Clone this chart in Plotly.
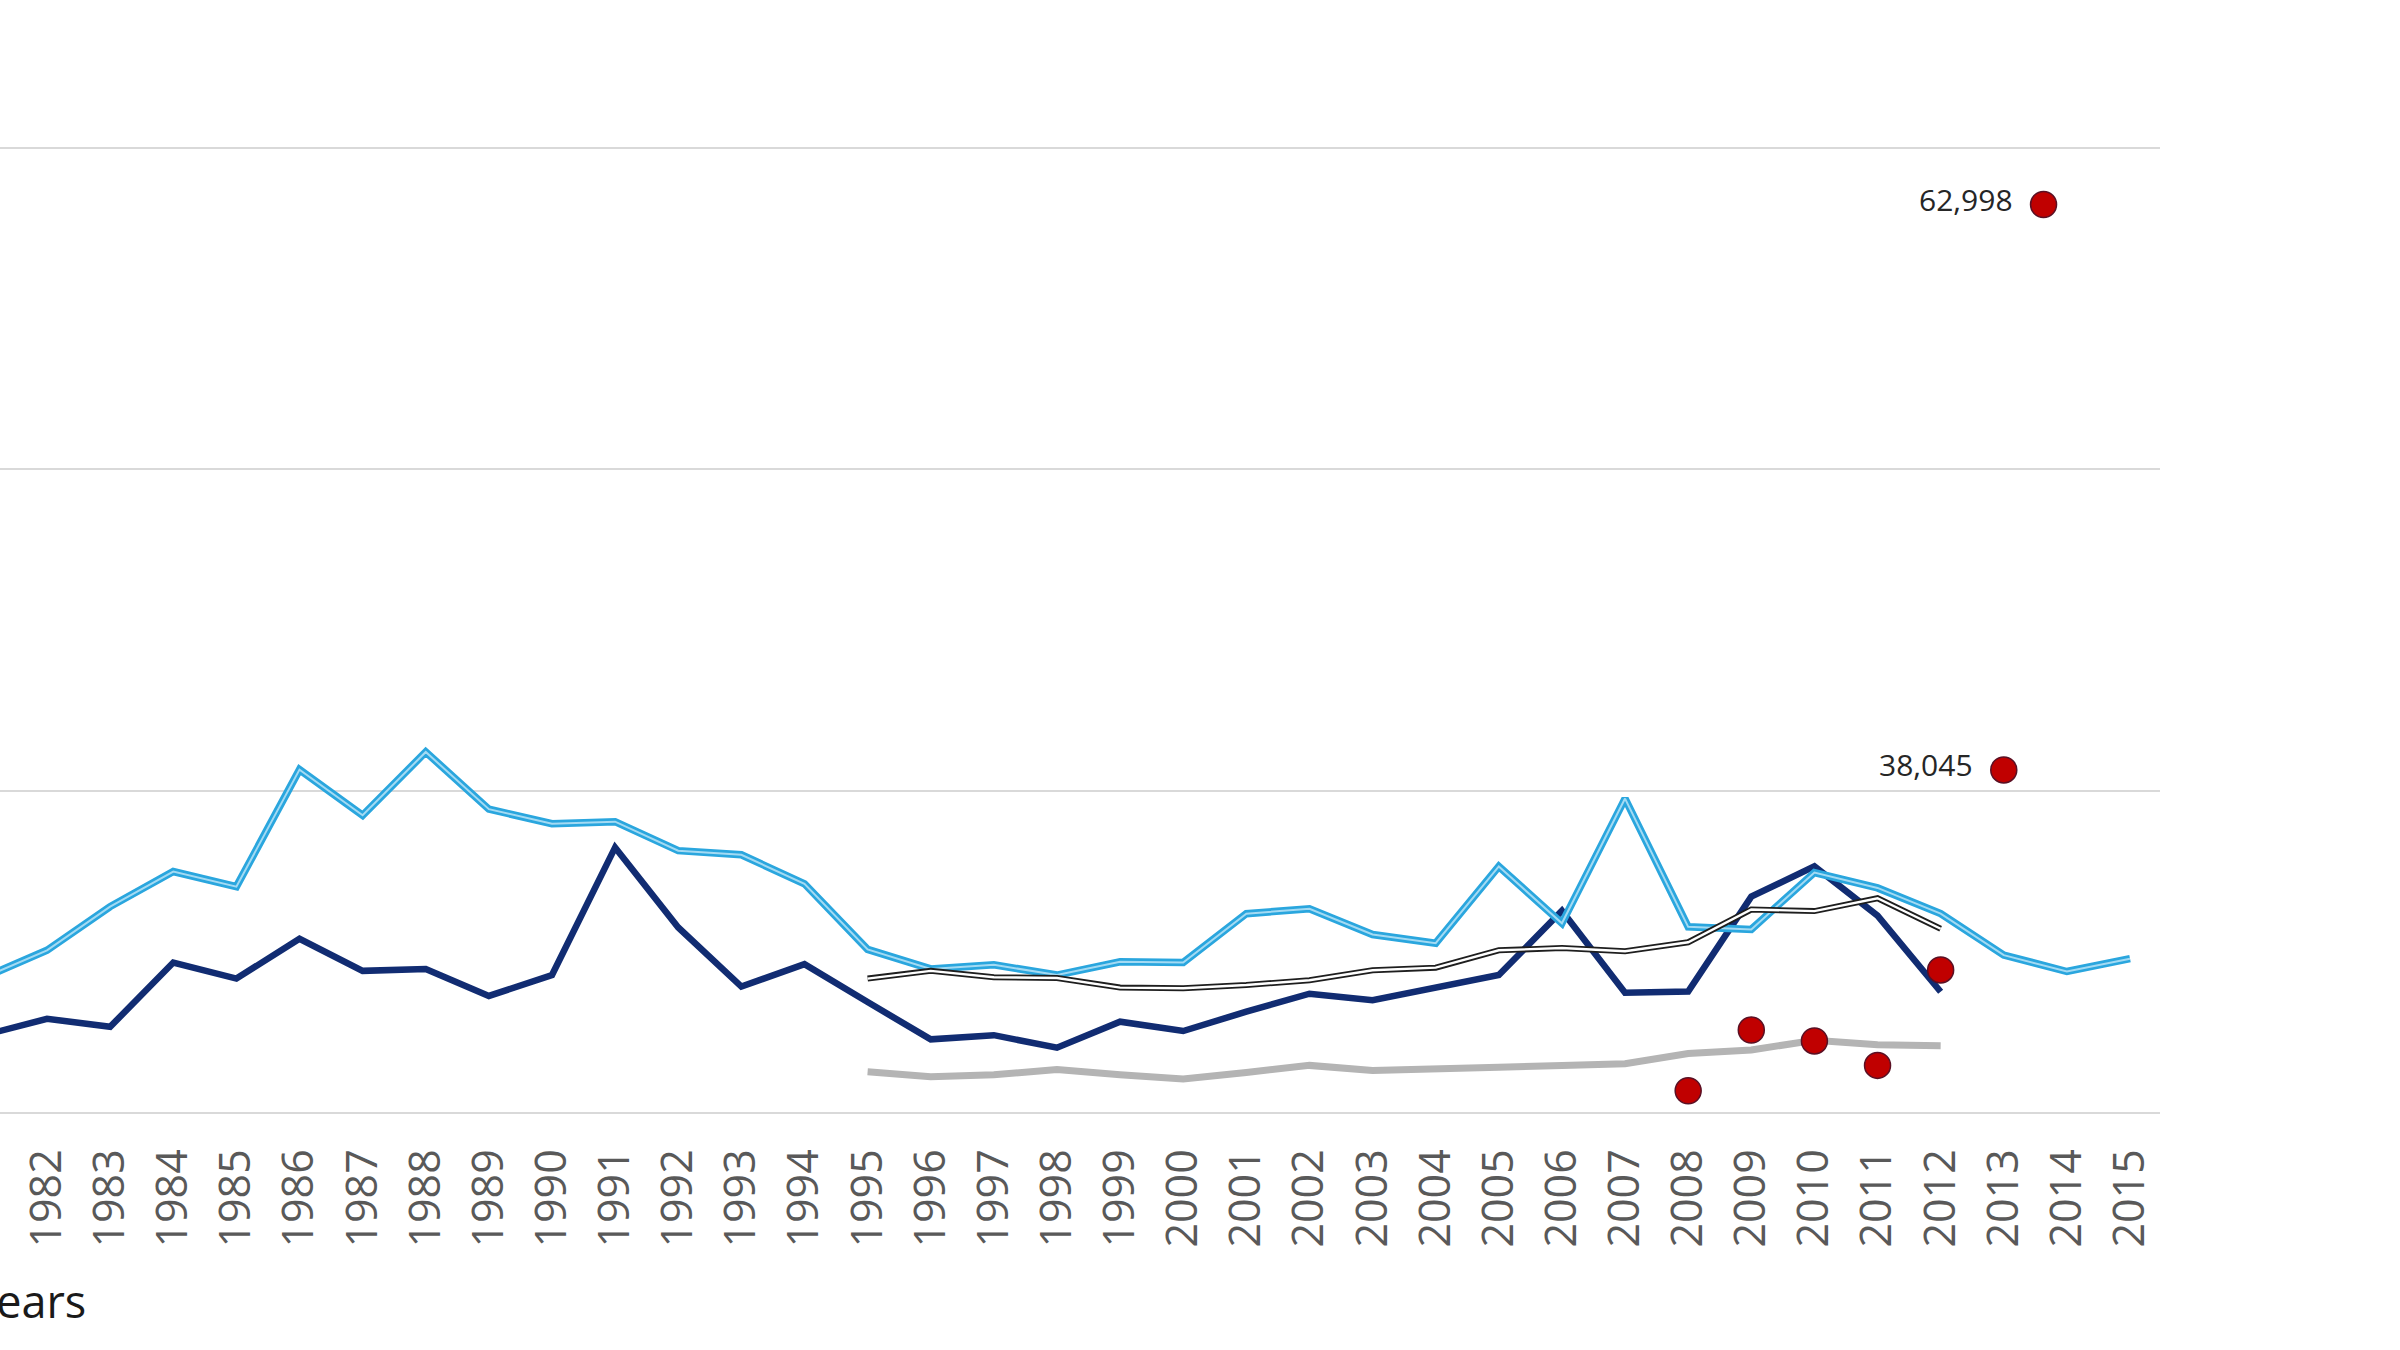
import plotly.graph_objects as go

# ---- data (y in chart units, gridlines every 10,000) ----
years_all = list(range(1981, 2016))
light_blue = [4180, 5030, 6390, 7480, 7010, 10650, 9230, 11200, 9420, 8970,
              9030, 8130, 8000, 7100, 5060, 4450, 4580, 4260, 4670, 4650,
              6170, 6320, 5520, 5250, 7640, 5870, 9750, 5760, 5680, 7450,
              6970, 6170, 4880, 4370, 4770]

years_dark = list(range(1981, 2013))
dark_blue = [2390, 2900, 2650, 4650, 4150, 5390, 4390, 4450, 3610, 4260,
             8230, 5740, 3900, 4600, 3420, 2260, 2390, 2000, 2810, 2520,
             3120, 3680, 3480, 3870, 4260, 6260, 3710, 3750, 6700, 7640,
             6110, 3740]

years_short = list(range(1995, 2013))
black_white = [4150, 4390, 4190, 4170, 3870, 3850, 3950, 4100, 4410, 4490,
               5030, 5100, 5000, 5280, 6300, 6250, 6650, 5700]
gray = [1250, 1100, 1160, 1320, 1160, 1030, 1230, 1450, 1290, 1320,
        1390, 1450, 1500, 1820, 1930, 2230, 2090, 2060]

dot_x = [2008, 2009, 2010, 2011, 2012, 2013, 2013.63]
dot_y = [660, 2550, 2210, 1450, 4420, 10640, 28230]
dot_labels = ["", "", "", "", "", "38,045", "62,998"]

tick_years = list(range(1981, 2016))
tick_text = [str(y) for y in tick_years]
x_title = "Years"

# ---- figure ----
W, H = 2400, 1350
m_l, m_r, m_t, m_b = 0, 240, 19, 238
x_range = [1981.255, 2015.475]
y_range = [0, 34000]

fig = go.Figure()

fig.add_trace(go.Scatter(x=years_short, y=gray, mode="lines",
                         line=dict(color="#B4B4B4", width=7), hoverinfo="skip"))
fig.add_trace(go.Scatter(x=years_dark, y=dark_blue, mode="lines",
                         line=dict(color="#112C72", width=6.5), hoverinfo="skip"))
fig.add_trace(go.Scatter(x=years_all, y=light_blue, mode="lines",
                         line=dict(color="#2AA6DE", width=7.5), hoverinfo="skip"))
fig.add_trace(go.Scatter(x=years_all, y=light_blue, mode="lines",
                         line=dict(color="#A3DAF3", width=2), hoverinfo="skip"))
fig.add_trace(go.Scatter(x=years_short, y=black_white, mode="lines",
                         line=dict(color="#1E1E1E", width=6), hoverinfo="skip"))
fig.add_trace(go.Scatter(x=years_short, y=black_white, mode="lines",
                         line=dict(color="#FFFFFF", width=2.4), hoverinfo="skip"))
fig.add_trace(go.Scatter(x=dot_x, y=dot_y, mode="markers",
                         marker=dict(color="#C00000", size=26,
                                     line=dict(color="#5A1024", width=1.5)),
                         hoverinfo="skip"))

for xv, yv, lab in zip(dot_x, dot_y, dot_labels):
    if lab:
        fig.add_annotation(x=xv, y=yv, text=lab, showarrow=False,
                           xanchor="right", yanchor="middle", xshift=-29, yshift=5,
                           font=dict(family="Open Sans", size=30, color="#262626"))

plot_w = W - m_l - m_r
plot_h = H - m_t - m_b
fig.add_annotation(xref="paper", yref="paper",
                   x=-31 / plot_w, y=-(1300 - (H - m_b)) / plot_h,
                   text=x_title, showarrow=False, xanchor="left", yanchor="middle",
                   font=dict(family="Open Sans", size=45, color="#1A1A1A"))

fig.update_layout(
    width=W, height=H,
    margin=dict(l=m_l, r=m_r, t=m_t, b=m_b, pad=0),
    paper_bgcolor="white", plot_bgcolor="white",
    showlegend=False,
    xaxis=dict(range=x_range, tickmode="array", tickvals=tick_years, ticktext=tick_text,
               tickangle=-90, showgrid=False, zeroline=False,
               showline=True, linecolor="#D9D9D9", linewidth=2,
               ticks="", ticklabelstandoff=18,
               tickfont=dict(family="Open Sans", size=43, color="#595959")),
    yaxis=dict(range=y_range, tickmode="array", tickvals=[10000, 20000, 30000],
               showticklabels=False, showgrid=True, gridcolor="#D9D9D9", gridwidth=2,
               zeroline=False, showline=False, ticks=""),
)

fig.write_html("out.html", config={"displayModeBar": False},
               post_script="document.body.style.margin='0';document.body.style.overflow='hidden';")
